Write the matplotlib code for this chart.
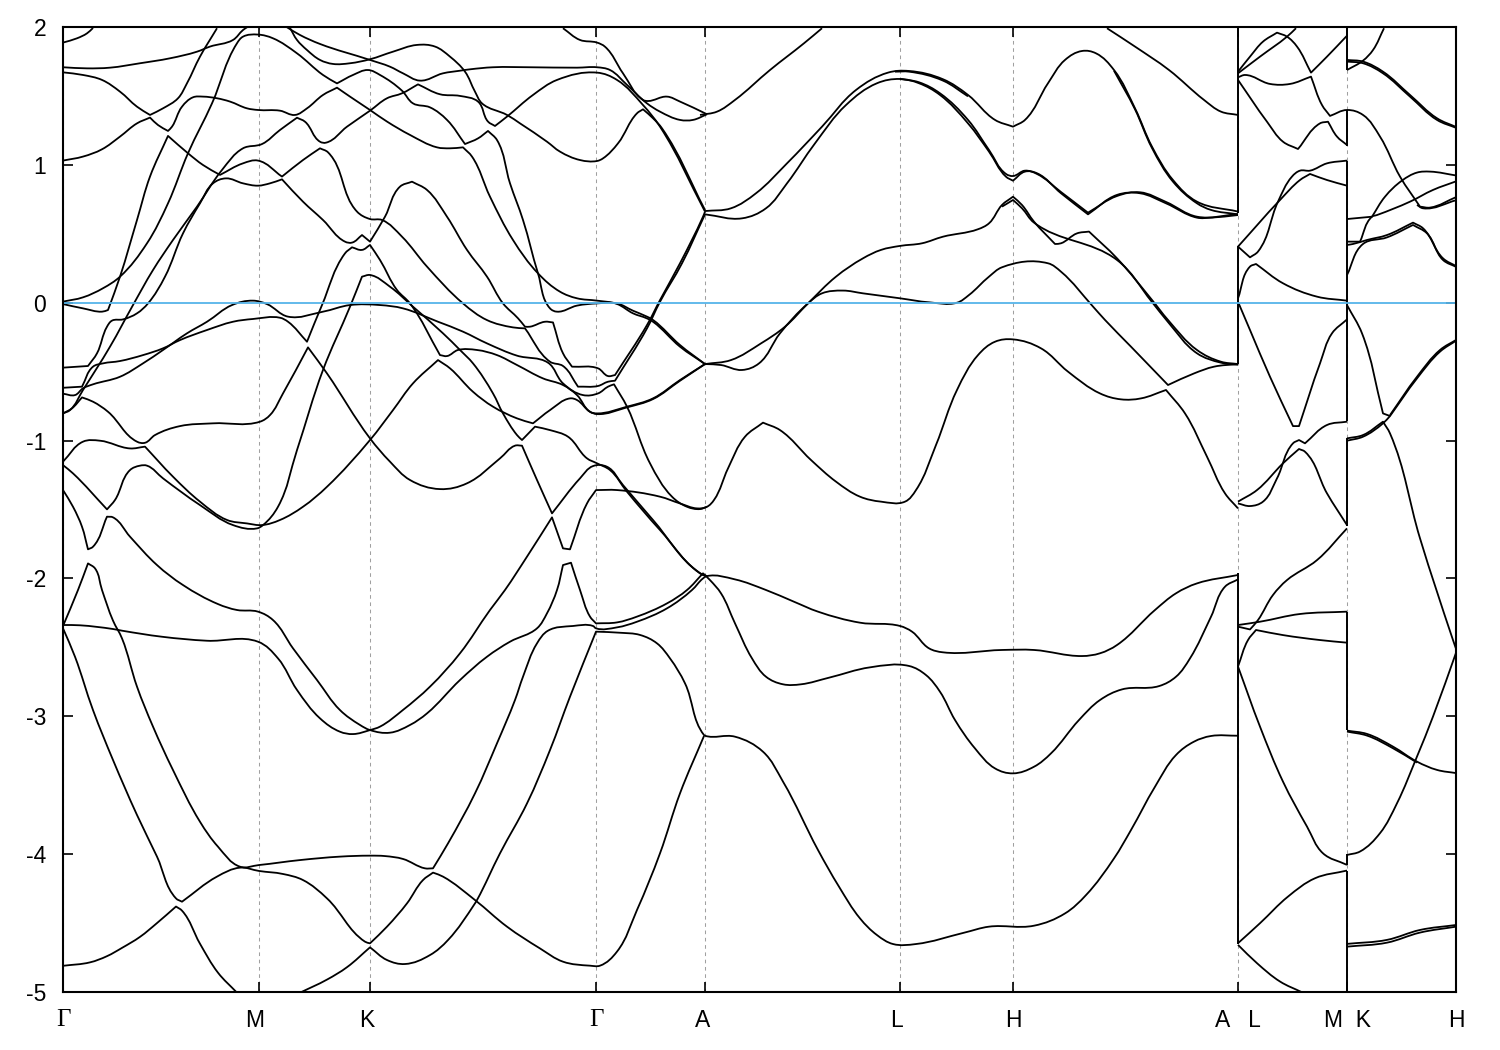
import numpy as np
import matplotlib
matplotlib.use("Agg")
import matplotlib.pyplot as plt
from matplotlib.path import Path
from matplotlib.patches import PathPatch

plt.rcParams['font.family'] = ['Liberation Sans', 'DejaVu Sans']

# symmetry points along the path (k distance units)
tick_k = [0, 196, 307, 533, 642, 837, 950, 1175, 1284, 1393]
tick_labels = ['Γ', 'M ', 'K\u2009', 'Γ', 'A ', 'L\u2009', 'H', 'A   L', 'M  K', 'H']
y_ticks = [-5, -4, -3, -2, -1, 0, 1, 2]
fermi_level = 0.0

c01_k = [0,27,44,59,77,94,113,119,137,155,174]
c01_e = [-4.81,-4.785,-4.74,-4.68,-4.60,-4.50,-4.38,-4.41,-4.65,-4.86,-5.005]

c02_k = [237,264,284,307,324,342,367,385,412,414,437,464,487,507,533,557,577,594,607,622,641,642,672,700,720,755,776,797,814,830,853,901,926,971,1002,1023,1051,1068,1092,1113,1131,1148,1175]
c02_e = [-5.005,-4.91,-4.82,-4.676,-4.768,-4.797,-4.732,-4.623,-4.357,-4.333,-3.994,-3.632,-3.245,-2.858,-2.386,-2.394,-2.41,-2.471,-2.58,-2.761,-3.136,-3.141,-3.148,-3.257,-3.474,-3.97,-4.236,-4.466,-4.587,-4.652,-4.652,-4.57,-4.526,-4.519,-4.43,-4.297,-4.031,-3.825,-3.511,-3.281,-3.184,-3.143,-3.141]

c03_k = [0,12,30,50,74,94,113,119,154,177,196,220,240,264,302,307,324,344,360,370,380,412,444,477,500,527,537,554,574,597,617,641]
c03_e = [-2.362,-2.568,-2.955,-3.317,-3.716,-4.018,-4.321,-4.345,-4.163,-4.098,-4.122,-4.144,-4.188,-4.321,-4.635,-4.647,-4.526,-4.357,-4.188,-4.134,-4.163,-4.333,-4.526,-4.684,-4.78,-4.809,-4.809,-4.707,-4.405,-3.994,-3.559,-3.143]

c04_k = [0,15,25,32,39,50,59,74,90,110,137,155,177,196,237,277,307,322,340,362,370,385,412,434,452,460,474,485,510,530,533,554,574,604,629,640,644,672,703,731,755,797,837,849,866,880,939,971,1019,1037,1054,1092,1113,1134,1175]
c04_e = [-2.345,-2.084,-1.891,-1.927,-2.084,-2.306,-2.435,-2.785,-3.075,-3.39,-3.765,-3.946,-4.091,-4.079,-4.043,-4.018,-4.011,-4.014,-4.035,-4.103,-4.103,-3.922,-3.559,-3.196,-2.882,-2.713,-2.471,-2.379,-2.345,-2.345,-2.362,-2.355,-2.314,-2.217,-2.084,-2.0,-1.983,-2.007,-2.084,-2.169,-2.241,-2.321,-2.345,-2.386,-2.507,-2.536,-2.519,-2.519,-2.563,-2.543,-2.483,-2.229,-2.108,-2.036,-1.975]

c05_k = [0,10,19,25,30,44,50,67,94,120,155,174,195,210,230,254,277,297,307,327,347,364,397,424,447,474,484,494,500,508,517,527,533,554,574,604,624,640,647,658,672,689,703,720,738,766,807,846,863,877,892,912,932,950,971,988,1016,1037,1059,1096,1113,1127,1148,1162,1175]
c05_e = [-1.359,-1.48,-1.625,-1.789,-1.77,-1.552,-1.557,-1.697,-1.903,-2.048,-2.186,-2.229,-2.241,-2.302,-2.507,-2.737,-2.955,-3.063,-3.1,-3.119,-3.063,-2.979,-2.737,-2.568,-2.459,-2.362,-2.253,-2.084,-1.903,-1.886,-2.084,-2.277,-2.326,-2.319,-2.277,-2.181,-2.084,-1.963,-2.012,-2.108,-2.326,-2.58,-2.713,-2.768,-2.768,-2.72,-2.645,-2.635,-2.701,-2.822,-3.027,-3.233,-3.378,-3.414,-3.366,-3.269,-3.027,-2.882,-2.805,-2.781,-2.713,-2.58,-2.278,-2.06,-2.007]

c06_k = [0,17,50,59,99,144,195,215,234,257,277,290,307,317,340,367,397,427,442,464,489,500,507,524,533,554,597,617,634,644,651,665,682,700,717,748,773,797,818,842,853,873,894,915,932,950,978,1005,1037,1058,1078,1103,1122,1144,1162,1175]
c06_e = [-2.338,-2.34,-2.367,-2.379,-2.423,-2.452,-2.459,-2.58,-2.809,-3.015,-3.112,-3.129,-3.1,-3.075,-2.954,-2.785,-2.543,-2.229,-2.084,-1.842,-1.557,-1.782,-1.789,-1.456,-1.359,-1.359,-1.407,-1.456,-1.492,-1.48,-1.431,-1.202,-0.972,-0.87,-0.924,-1.141,-1.298,-1.407,-1.443,-1.443,-1.359,-1.032,-0.633,-0.38,-0.283,-0.266,-0.331,-0.5,-0.658,-0.701,-0.694,-0.633,-0.803,-1.117,-1.383,-1.492]

c07_k = [0,12,20,30,57,80,100,124,144,169,190,204,225,260,287,317,340,375,400,424,454,485,500,520,535,545,551,564,587,609,624,637,644]
c07_e = [-0.66,-0.67,-0.621,-0.592,-0.537,-0.44,-0.343,-0.222,-0.138,-0.017,0.015,-0.01,-0.101,-0.065,-0.017,-0.017,-0.041,-0.138,-0.21,-0.295,-0.384,-0.435,-0.585,-0.67,-0.658,-0.609,-0.592,-0.754,-1.165,-1.407,-1.48,-1.497,-1.48]

c08_k = [0,19,30,40,57,80,100,117,144,170,190,217,225,244,259,282,289,299,307,317,334,347,377,384,395,414,434,454,480,500,514,527,534,564,590,617,642]
c08_e = [-0.617,-0.609,-0.464,-0.44,-0.423,-0.38,-0.331,-0.271,-0.198,-0.138,-0.118,-0.109,-0.138,-0.283,-0.017,0.358,0.402,0.383,0.419,0.31,0.092,-0.005,-0.38,-0.387,-0.343,-0.343,-0.38,-0.452,-0.549,-0.597,-0.67,-0.791,-0.803,-0.754,-0.694,-0.561,-0.445]

c09_k = [0,25,34,44,49,60,74,85,102,120,137,150,163,180,195,207,219,240,260,282,289,299,307,322,337,349,364,384,404,424,440,455,462,467,482,490,500,509,535,545,552,584,597,617,640,642]
c09_e = [-0.471,-0.459,-0.367,-0.174,-0.13,-0.121,-0.077,-0.005,0.189,0.503,0.721,0.866,0.902,0.866,0.849,0.866,0.895,0.733,0.6,0.443,0.436,0.491,0.443,0.624,0.842,0.878,0.818,0.624,0.383,0.189,-0.005,-0.113,-0.174,-0.174,-0.138,-0.143,-0.367,-0.464,-0.476,-0.532,-0.525,-0.162,0.019,0.286,0.624,0.66]

c10_k = [0,7,20,47,70,90,110,134,159,180,199,217,234,242,257,263,284,307,324,339,355,377,397,415,425,432,444,470,494,534,554,580,597,642]
c10_e = [-0.803,-0.779,-0.633,-0.319,-0.017,0.237,0.455,0.697,0.963,1.12,1.151,1.253,1.342,1.313,1.168,1.161,1.277,1.393,1.483,1.519,1.584,1.512,1.5,1.459,1.314,1.282,1.35,1.507,1.616,1.669,1.616,1.434,1.277,0.661]

c11_k = [0,9,19,30,45,74,82,92,117,150,197,207,220,245,264,307,327,347,377,404,437,452,459,474,489,517,530,544,560,590,637,644]
c11_e = [-0.803,-0.766,-0.687,-0.718,-0.791,-1.008,-1.016,-0.96,-0.895,-0.875,-0.863,-0.815,-0.658,-0.324,-0.513,-0.984,-1.153,-1.286,-1.352,-1.31,-1.129,-1.037,-1.037,-1.286,-1.528,-1.274,-1.185,-1.19,-1.323,-1.576,-1.963,-1.983]

c12_k = [0,20,37,67,82,110,137,164,184,199,217,240,264,307,330,350,375,387,410,430,454,470,487,507,514,527,534,564,590,617,642]
c12_e = [-1.153,-1.008,-1.001,-1.057,-1.044,-1.262,-1.443,-1.576,-1.601,-1.613,-1.576,-1.48,-1.335,-0.996,-0.779,-0.585,-0.416,-0.476,-0.646,-0.754,-0.839,-0.875,-0.779,-0.694,-0.706,-0.791,-0.808,-0.759,-0.699,-0.566,-0.445]

c13_k = [0,10,44,52,67,77,84,100,137,170,194,200,215,234,260,287,299,307,327,350,380,397,410,430,440,454,459,472,487,505,524,534,547,564,597,640,644]
c13_e = [-1.178,-1.238,-1.499,-1.431,-1.214,-1.182,-1.182,-1.274,-1.468,-1.613,-1.637,-1.613,-1.48,-1.069,-0.488,-0.029,0.189,0.201,0.116,-0.029,-0.222,-0.343,-0.44,-0.658,-0.803,-0.96,-0.996,-0.899,-0.924,-0.972,-1.129,-1.165,-1.214,-1.371,-1.649,-1.975,-1.983]

c14_k = [0,20,39,45,57,74,87,105,125,140,157,180,195,219,240,257,265,294,307,319,339,364,400,424,450,462,487,500,515,535,545,552,584,597,619,642]
c14_e = [-0.01,-0.041,-0.065,-0.053,0.189,0.6,0.915,1.21,1.084,0.999,0.927,1.011,1.031,0.915,1.035,1.12,1.091,0.661,0.607,0.6,0.479,0.262,-0.005,-0.126,-0.179,-0.186,-0.428,-0.459,-0.609,-0.604,-0.573,-0.566,-0.186,0.007,0.286,0.641]

c15_k = [0,20,40,57,84,105,125,149,174,180,195,210,234,260,274,290,305,317,339,350,367,384,402,415,425,434,447,460,475,487,494,514,534,554,570,584,590,617,642]
c15_e = [0.008,0.039,0.105,0.189,0.431,0.721,1.084,1.446,1.882,1.93,1.945,1.918,1.809,1.652,1.591,1.652,1.688,1.652,1.538,1.446,1.417,1.326,1.151,1.192,1.246,1.18,0.866,0.6,0.213,-0.041,-0.065,-0.021,-0.005,-0.005,-0.058,-0.101,-0.125,-0.307,-0.445]

c16_k = [0,20,39,57,74,87,95,105,109,119,130,140,154,167,184,195,217,232,244,260,274,287,307,324,347,374,387,400,409,427,450,475,497,514,534,554,570,584,590,617,642]
c16_e = [1.031,1.06,1.113,1.205,1.301,1.343,1.289,1.246,1.277,1.422,1.49,1.495,1.483,1.459,1.41,1.398,1.393,1.362,1.41,1.507,1.56,1.495,1.398,1.314,1.217,1.127,1.12,1.127,1.06,0.769,0.455,0.213,0.08,0.032,0.015,-0.009,-0.077,-0.114,-0.138,-0.319,-0.445]

c17_k = [0,20,39,57,74,87,100,115,124,137,154]
c17_e = [1.671,1.652,1.616,1.531,1.422,1.362,1.41,1.483,1.592,1.785,1.991]

c18_k = [0,24,47,77,107,134,147,170,180,184]
c18_e = [1.708,1.70,1.705,1.737,1.773,1.821,1.858,1.906,1.978,1.998]

c19_k = [0,14,24,30]
c19_e = [1.887,1.918,1.954,1.993]

c20_k = [227,234,244,257,270,287,307,330,354,372,387,402,412,419,444,457,484,497,517,534,540,555,574,580,590,599,642]
c20_e = [1.993,1.906,1.833,1.761,1.732,1.737,1.766,1.821,1.87,1.858,1.785,1.676,1.531,1.446,1.362,1.301,1.168,1.096,1.035,1.028,1.047,1.156,1.374,1.403,1.338,1.265,0.673]

c21_k = [224,237,257,307,327,340,357,380,397,407,430,467,514,534,547,564,584,597,617,630,644]
c21_e = [1.998,1.942,1.877,1.761,1.712,1.664,1.611,1.664,1.683,1.693,1.708,1.708,1.705,1.708,1.688,1.58,1.446,1.386,1.326,1.326,1.367]

c22_k = [500,517,534,542,560,580,585,604,617,644]
c22_e = [1.991,1.906,1.887,1.857,1.664,1.471,1.463,1.495,1.459,1.367]

c23_k = [637,654,672,707,741,759]
c23_e = [1.362,1.386,1.471,1.688,1.882,1.991]

c24_k = [1044,1072,1106,1141,1158,1175]
c24_e = [1.991,1.858,1.688,1.471,1.386,1.362]

c25_k = [642,668,693,724,759,793,825,846,880,905,932,950,962,985,1002,1019,1033,1051,1072,1089,1110,1134,1175]
c25_e = [0.665,0.685,0.794,1.011,1.277,1.543,1.669,1.681,1.621,1.507,1.326,1.277,1.326,1.592,1.761,1.826,1.809,1.688,1.41,1.132,0.89,0.733,0.661]

c26_k = [1051,1072,1089,1110,1134,1148,1175]
c26_e = [1.683,1.403,1.122,0.878,0.721,0.673,0.641]

c27_k = [832,846,880,905]
c27_e = [1.676,1.676,1.611,1.497]

c28_k = [642,679,703,724,752,783,814,837,856,877,905,926,943,950,962,974,998,1025,1054,1077,1103,1134,1148,1175]
c28_e = [0.641,0.612,0.685,0.866,1.156,1.434,1.592,1.623,1.592,1.507,1.301,1.096,0.914,0.885,0.951,0.939,0.794,0.641,0.782,0.794,0.721,0.617,0.617,0.636]

c29_k = [837,856,877,905,926,943,950,962,974,998,1025,1054,1077,1103,1134,1175]
c29_e = [1.623,1.599,1.519,1.326,1.108,0.934,0.919,0.958,0.934,0.803,0.653,0.774,0.801,0.731,0.624,0.643]

c30_k = [642,668,698,722,745,773,800,818,837,859,880,915,926,939,950,959,971,992,998,1014,1026,1054,1089,1105,1134,1158,1175]
c30_e = [-0.445,-0.416,-0.295,-0.174,-0.005,0.189,0.322,0.383,0.412,0.431,0.479,0.533,0.576,0.709,0.769,0.709,0.588,0.426,0.431,0.503,0.516,0.322,0.02,-0.125,-0.343,-0.428,-0.445]

c31_k = [939,950,959,971,1054,1089,1105,1134,1158,1175]
c31_e = [0.697,0.745,0.685,0.581,0.31,0.005,-0.14,-0.367,-0.435,-0.45]

c32_k = [642,658,679,696,717,745,759,780,800,837,866,894,906,926,939,985,998,1030,1042,1068,1105,1131,1151,1175]
c32_e = [-0.445,-0.452,-0.488,-0.44,-0.222,-0.005,0.068,0.088,0.068,0.032,0.003,0.0,0.056,0.189,0.257,0.286,0.225,-0.028,-0.125,-0.319,-0.597,-0.513,-0.464,-0.445]

c33_k = [1175,1187,1200,1214,1224,1234,1248,1264,1284]
c33_e = [1.676,1.785,1.894,1.959,1.93,1.858,1.669,1.785,1.937]

c34_k = [1175,1197,1224,1233]
c34_e = [1.664,1.785,1.93,1.991]

c35_k = [1175,1182,1207,1227,1248,1259,1267,1284,1300,1317,1337,1357,1367,1394]
c35_e = [1.635,1.652,1.587,1.587,1.64,1.434,1.355,1.398,1.362,1.205,0.915,0.697,0.69,0.769]

c36_k = [1175,1204,1220,1235,1257,1265,1274,1284]
c36_e = [1.616,1.313,1.168,1.115,1.301,1.313,1.205,1.144]

c37_k = [1175,1217,1237,1247,1264,1284]
c37_e = [0.407,0.745,0.89,0.934,0.89,0.849]

c38_k = [1175,1187,1195,1215,1229,1237,1247,1264,1284]
c38_e = [0.407,0.329,0.371,0.733,0.915,0.958,0.958,1.011,1.031]

c39_k = [1175,1187,1193,1220,1254,1284]
c39_e = [0.032,0.262,0.281,0.141,0.044,0.015]

c40_k = [1175,1187,1207,1230,1236,1257,1269,1284]
c40_e = [0.007,-0.198,-0.537,-0.895,-0.895,-0.44,-0.222,-0.121]

c41_k = [1175,1187,1200,1214,1230,1236,1242,1264,1284]
c41_e = [-1.456,-1.475,-1.443,-1.274,-1.02,-0.996,-1.02,-0.887,-0.863]

c42_k = [1175,1194,1220,1236,1242,1264,1284]
c42_e = [-1.443,-1.359,-1.165,-1.061,-1.081,-1.383,-1.613]

c43_k = [1175,1197,1237,1284]
c43_e = [-2.338,-2.314,-2.258,-2.241]

c44_k = [1175,1187,1195,1210,1224,1254,1284]
c44_e = [-2.35,-2.37,-2.302,-2.12,-2.012,-1.867,-1.637]

c45_k = [1175,1185,1193,1220,1257,1284]
c45_e = [-2.639,-2.447,-2.374,-2.411,-2.447,-2.466]

c46_k = [1175,1197,1220,1244,1260,1284]
c46_e = [-2.639,-3.075,-3.474,-3.8,-3.994,-4.078]

c47_k = [1175,1197,1225,1252,1284]
c47_e = [-4.646,-4.501,-4.308,-4.175,-4.119]

c48_k = [1175,1194,1217,1239]
c48_e = [-4.658,-4.791,-4.924,-5.002]

c49_k = [1284,1300,1310,1321]
c49_e = [1.688,1.756,1.833,1.991]

c50_k = [1284,1300,1320,1347,1374,1394]
c50_e = [1.761,1.749,1.676,1.507,1.338,1.272]

c51_k = [1284,1300,1320,1347,1374,1394]
c51_e = [1.749,1.737,1.664,1.495,1.326,1.266]

c52_k = [1284,1309,1322,1339,1354,1367,1394]
c52_e = [0.607,0.624,0.769,0.886,0.944,0.951,0.922]

c53_k = [1284,1297,1309,1314,1347,1370,1394]
c53_e = [0.443,0.443,0.624,0.636,0.733,0.818,0.883]

c54_k = [1284,1290,1304,1324,1350,1360,1380,1394]
c54_e = [0.419,0.426,0.455,0.491,0.581,0.54,0.322,0.262]

c55_k = [1284,1300,1324,1350,1364,1380,1394]
c55_e = [0.201,0.426,0.474,0.564,0.503,0.31,0.257]

c56_k = [1354,1360,1394]
c56_e = [0.709,0.685,0.745]

c57_k = [1284,1299,1320,1327,1354,1377,1394]
c57_e = [-0.017,-0.222,-0.803,-0.822,-0.549,-0.355,-0.271]

c58_k = [1327,1354,1377,1394]
c58_e = [-0.815,-0.537,-0.343,-0.266]

c59_k = [1284,1300,1320,1327,1357,1390,1394]
c59_e = [-0.984,-0.96,-0.863,-0.948,-1.709,-2.447,-2.531]

c60_k = [1284,1300,1320,1327]
c60_e = [-1.001,-0.972,-0.875,-0.822]

c61_k = [1284,1304,1330,1354,1374,1394]
c61_e = [-3.104,-3.128,-3.22,-3.329,-3.389,-3.413]

c62_k = [1284,1304,1330,1354]
c62_e = [-3.111,-3.14,-3.232,-3.336]

c63_k = [1284,1297,1317,1334,1354,1370,1394]
c63_e = [-4.006,-3.981,-3.848,-3.631,-3.292,-3.002,-2.519]

c64_k = [1284,1324,1357,1394]
c64_e = [-4.651,-4.622,-4.55,-4.513]

c65_k = [1284,1324,1357,1394]
c65_e = [-4.671,-4.642,-4.569,-4.525]

# jumps of the bands at the two path discontinuities
jump_k = [1175, 1175, 1175, 1284, 1284, 1284, 1284, 1284, 1284, 1284]
jump_top = [2.0, 0.41, -1.96, 2.0, 1.40, 1.03, -0.98, -2.24, -4.0, -4.12]
jump_bot = [0.65, -0.445, -4.65, 1.69, 1.14, -0.86, -1.62, -3.10, -4.08, -5.0]

bands = [(c01_k,c01_e),(c02_k,c02_e),(c03_k,c03_e),(c04_k,c04_e),(c05_k,c05_e),(c06_k,c06_e),(c07_k,c07_e),
         (c08_k,c08_e),(c09_k,c09_e),(c10_k,c10_e),(c11_k,c11_e),(c12_k,c12_e),(c13_k,c13_e),(c14_k,c14_e),
         (c15_k,c15_e),(c16_k,c16_e),(c17_k,c17_e),(c18_k,c18_e),(c19_k,c19_e),(c20_k,c20_e),(c21_k,c21_e),
         (c22_k,c22_e),(c23_k,c23_e),(c24_k,c24_e),(c25_k,c25_e),(c26_k,c26_e),(c27_k,c27_e),(c28_k,c28_e),
         (c29_k,c29_e),(c30_k,c30_e),(c31_k,c31_e),(c32_k,c32_e),(c33_k,c33_e),(c34_k,c34_e),(c35_k,c35_e),
         (c36_k,c36_e),(c37_k,c37_e),(c38_k,c38_e),(c39_k,c39_e),(c40_k,c40_e),(c41_k,c41_e),(c42_k,c42_e),
         (c43_k,c43_e),(c44_k,c44_e),(c45_k,c45_e),(c46_k,c46_e),(c47_k,c47_e),(c48_k,c48_e),(c49_k,c49_e),
         (c50_k,c50_e),(c51_k,c51_e),(c52_k,c52_e),(c53_k,c53_e),(c54_k,c54_e),(c55_k,c55_e),(c56_k,c56_e),
         (c57_k,c57_e),(c58_k,c58_e),(c59_k,c59_e),(c60_k,c60_e),(c61_k,c61_e),(c62_k,c62_e),(c63_k,c63_e),
         (c64_k,c64_e),(c65_k,c65_e)]


def band_path(k, e, aspect=137.86, corner_deg=48):
    """Bezier path through the read points; sharp turns stay as corners."""
    p = np.column_stack([k, np.asarray(e) * aspect])
    n = len(p)
    seg = p[1:] - p[:-1]
    seg_len = np.hypot(seg[:, 0], seg[:, 1])
    unit = seg / np.maximum(seg_len, 1e-9)[:, None]
    out_t = np.zeros((n, 2))
    in_t = np.zeros((n, 2))
    out_t[0] = unit[0]
    in_t[-1] = unit[-1]
    cos_limit = np.cos(np.radians(corner_deg))
    for i in range(1, n - 1):
        if np.dot(unit[i - 1], unit[i]) < cos_limit:
            in_t[i] = unit[i - 1]
            out_t[i] = unit[i]
        else:
            t = unit[i - 1] + unit[i]
            t /= np.hypot(*t)
            in_t[i] = t
            out_t[i] = t
    verts = [p[0]]
    codes = [Path.MOVETO]
    for i in range(n - 1):
        d = seg_len[i] * 0.36
        verts += [p[i] + out_t[i] * d, p[i + 1] - in_t[i + 1] * d, p[i + 1]]
        codes += [Path.CURVE4] * 3
    verts = np.array(verts)
    verts[:, 1] /= aspect
    return Path(verts, codes)


W, H = 1500, 1050
fig = plt.figure(figsize=(W/100, H/100), dpi=100, facecolor='white')
ax = fig.add_axes([63/W, 1-992/H, (1456-63)/W, (992-27)/H])
ax.set_xlim(0, 1393)
ax.set_ylim(-5, 2)

for k in tick_k:
    ax.axvline(k, color='#a0a0a0', lw=0.75, ls=(0, (3.5, 3.5)), zorder=1)

for k, e in bands:
    ax.add_patch(PathPatch(band_path(k, e), fill=False, edgecolor='black', lw=1.3,
                           joinstyle='round', zorder=3))
ax.vlines(jump_k, jump_bot, jump_top, color='black', lw=1.4, zorder=3)
ax.axhline(fermi_level, color='#56B4E9', lw=1.3, zorder=4)

ax.set_xticks(tick_k)
ax.set_xticklabels(tick_labels)
ax.set_yticks(y_ticks)
ax.set_yticklabels([str(v) for v in y_ticks])
ax.tick_params(direction='in', length=7.5, width=1.2, top=True, right=True,
               labelsize=16.5, colors='black')
ax.tick_params(axis='x', pad=12)
ax.tick_params(axis='y', pad=12)
for lab, txt in zip(ax.get_xticklabels(), tick_labels):
    if txt.strip() == 'Γ':
        lab.set_fontfamily(['Liberation Serif', 'DejaVu Serif'])
        lab.set_fontsize(18)
for s in ax.spines.values():
    s.set_linewidth(1.5)
    s.set_zorder(5)

fig.savefig('out.png', dpi=100)
